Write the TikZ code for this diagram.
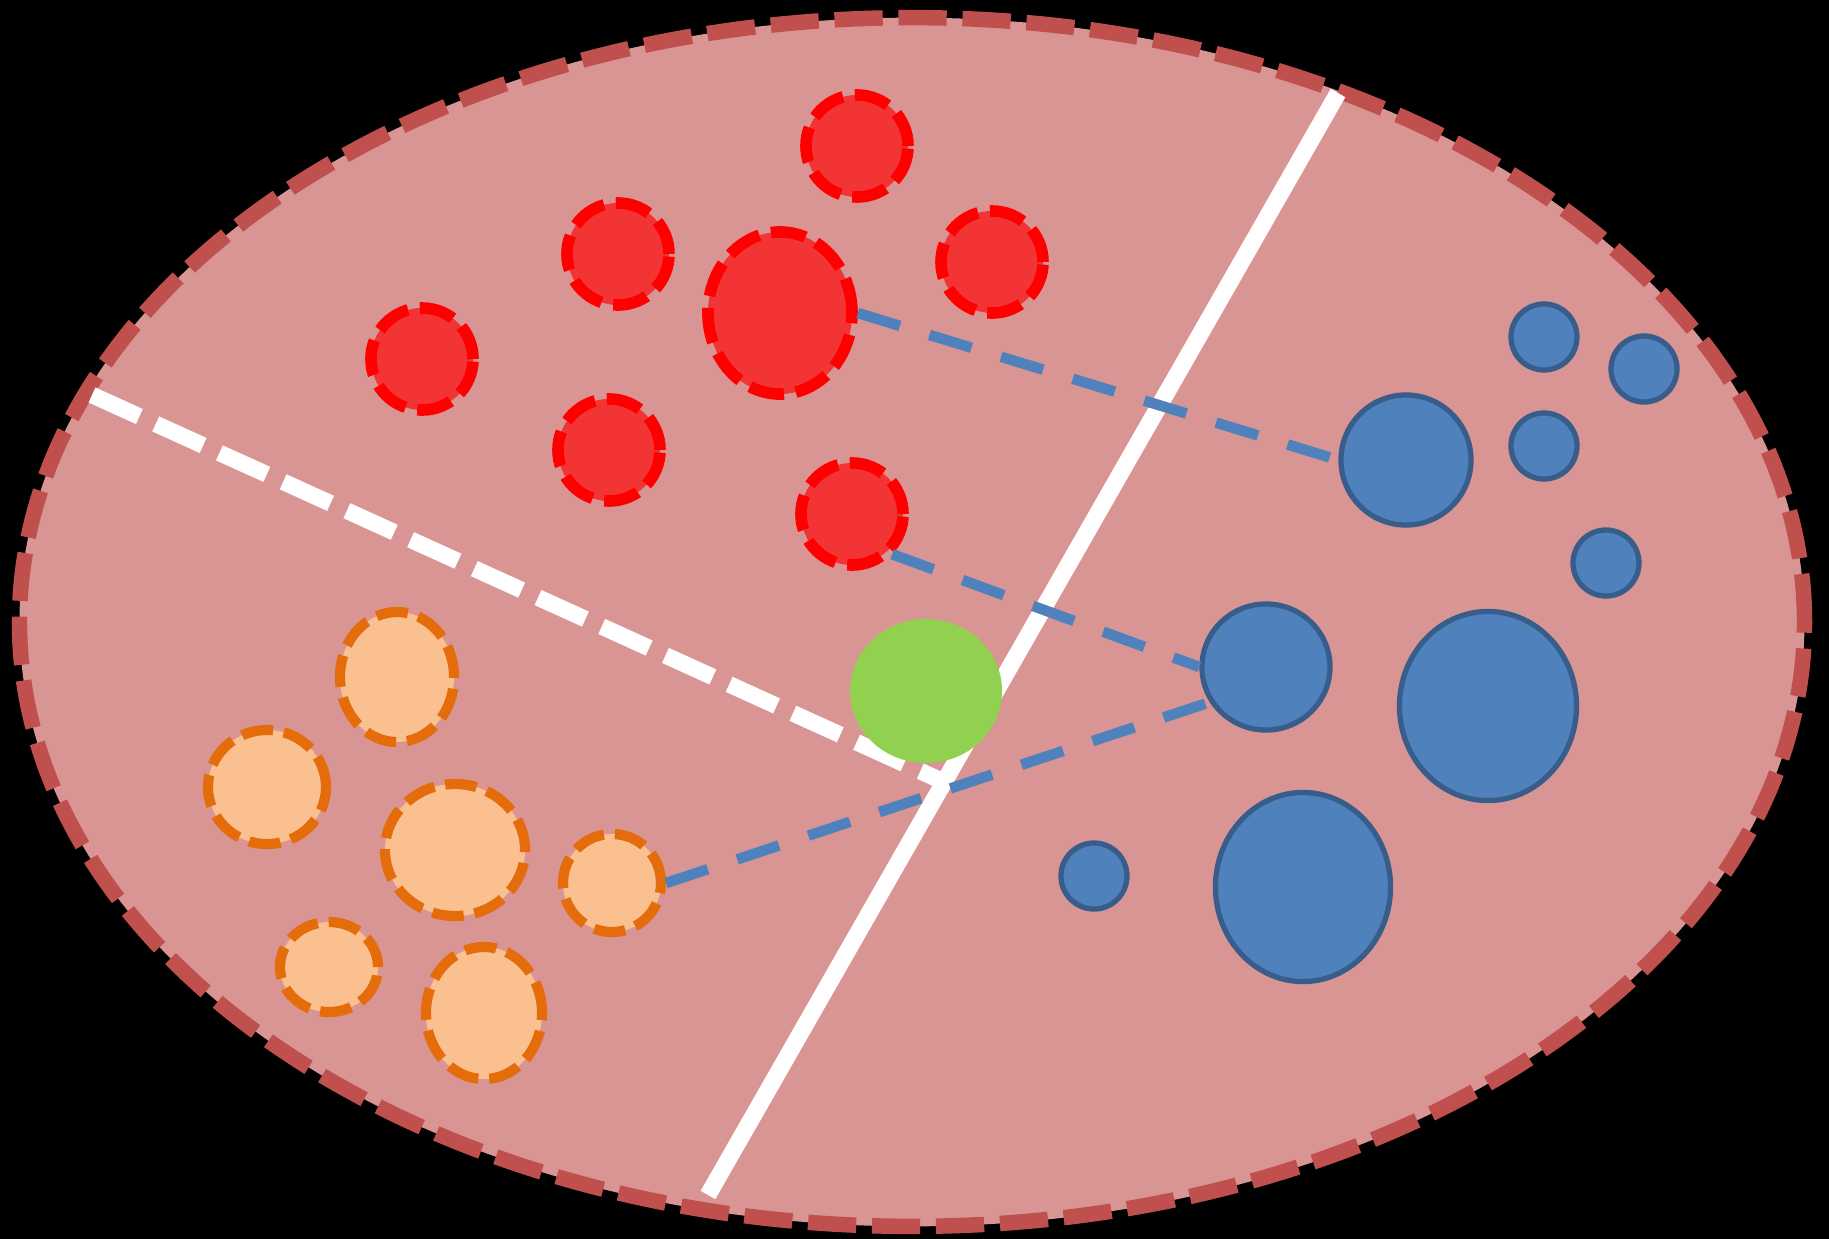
\documentclass[tikz,border=0pt]{standalone}
\usepackage{xcolor}
\usepackage{tikz}
\usetikzlibrary{shapes.geometric, positioning}
\definecolor{regionpink}{RGB}{217,149,148}
\definecolor{regionedge}{RGB}{192,80,77}
\definecolor{classred}{RGB}{242,52,52}
\definecolor{classorange}{RGB}{250,192,144}
\definecolor{orangeedge}{RGB}{228,108,10}
\definecolor{classblue}{RGB}{79,129,189}
\definecolor{blueedge}{RGB}{56,93,138}
\definecolor{querygreen}{RGB}{146,208,80}

\begin{document}
\begin{tikzpicture}[
  x=0.01cm, y=-0.01cm,
  dotbase/.style={ellipse, inner sep=0pt},
  reddot/.style={dotbase, fill=classred, draw=red, line width=3.3pt,
                 dash pattern=on 10pt off 3.4pt, minimum width=1.02cm, minimum height=1.02cm},
  orangedot/.style={dotbase, fill=classorange, draw=orangeedge, line width=2.9pt,
                    dash pattern=on 9pt off 3.1pt},
  bluedot/.style={dotbase, fill=classblue, draw=blueedge, line width=1.5pt},
  smallblue/.style={bluedot, minimum width=0.66cm, minimum height=0.66cm},
  querydot/.style={dotbase, fill=querygreen},
  splitline/.style={white, line width=4.8pt},
  splitdash/.style={white, line width=4.7pt, dash pattern=on 14.8pt off 5.1pt},
  linkline/.style={classblue, line width=3pt, dash pattern=on 12.5pt off 8.8pt}
]

\fill[black] (0,0) rectangle (1829,1239);
\useasboundingbox (0,0) rectangle (1829,1239);

\draw[fill=regionpink, draw=regionedge, line width=4.4pt, dash pattern=on 13.7pt off 4.5pt]
  (912,622) ellipse [x radius=8.92cm, y radius=6.04cm];

\coordinate (cuttop) at (1338,93);
\coordinate (cutbottom) at (708,1195);
\coordinate (dashleft) at (92,395);
\coordinate (dashright) at (942,781);
\draw[splitline] (cuttop) -- (cutbottom);
\draw[splitdash] (dashleft) -- (dashright);

\node[reddot] (red1) at (857,146) {};
\node[reddot] (red2) at (618,254) {};
\node[reddot] (red3) at (992,262) {};
\node[reddot, minimum width=1.44cm, minimum height=1.62cm] (red4) at (780,313) {};
\node[reddot] (red5) at (422,359) {};
\node[reddot] (red6) at (609,450) {};
\node[reddot] (red7) at (852,514) {};

\node[orangedot, minimum width=1.14cm, minimum height=1.30cm] (orange1) at (397,677) {};
\node[orangedot, minimum width=1.18cm, minimum height=1.14cm] (orange2) at (267,787) {};
\node[orangedot, minimum width=1.40cm, minimum height=1.32cm] (orange3) at (455,850) {};
\node[orangedot, minimum width=0.98cm, minimum height=0.98cm] (orange4) at (612,883) {};
\node[orangedot, minimum width=0.98cm, minimum height=0.90cm] (orange5) at (329,967) {};
\node[orangedot, minimum width=1.16cm, minimum height=1.32cm] (orange6) at (484,1013) {};

\node[smallblue] (blue1) at (1544,337) {};
\node[smallblue] (blue2) at (1644,369) {};
\node[smallblue] (blue3) at (1544,446) {};
\node[bluedot, minimum width=1.30cm, minimum height=1.30cm] (blue4) at (1406,460) {};
\node[smallblue] (blue5) at (1606,563) {};
\node[bluedot, minimum width=1.28cm, minimum height=1.26cm] (blue6) at (1266,667) {};
\node[bluedot, minimum width=1.77cm, minimum height=1.89cm] (blue7) at (1488,706) {};
\node[smallblue] (blue8) at (1094,876) {};
\node[bluedot, minimum width=1.75cm, minimum height=1.89cm] (blue9) at (1303,887) {};

\node[querydot, minimum width=1.52cm, minimum height=1.44cm] (query) at (926,691) {};

\draw[linkline] (red4.east) -- (blue4.west);
\draw[linkline] (red7.south east) -- (blue6.west);
\draw[linkline] (orange4.east) -- (blue6.212);

\end{tikzpicture}
\end{document}
